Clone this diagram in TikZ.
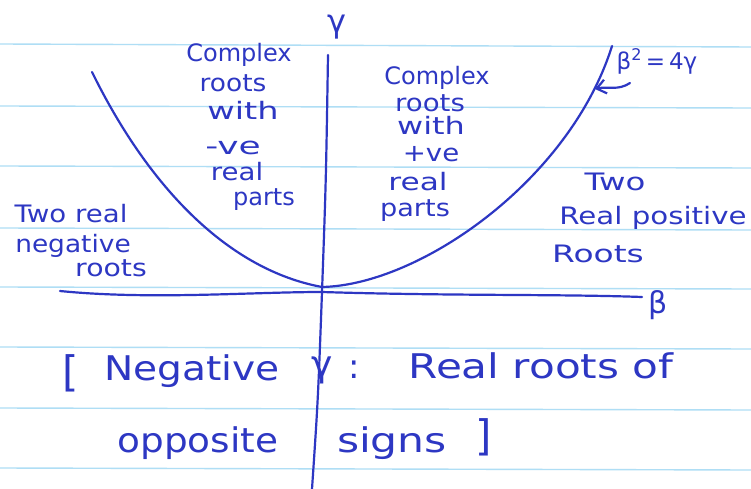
\documentclass[tikz,border=0pt]{standalone}
\usepackage{fontspec}
\setmainfont{DejaVu Sans}
\usepackage{graphicx}
\usetikzlibrary{arrows.meta}
\definecolor{ink}{RGB}{45,55,195}
\definecolor{rulecol}{RGB}{175,222,245}
\newcommand{\sx}[2]{\scalebox{#1}[1]{#2}}
\begin{document}
\begin{tikzpicture}[x=1pt,y=-1pt,
  pen/.style={draw=ink, line width=2.2pt, line cap=round, line join=round},
  hand/.style={text=ink, inner sep=0pt, anchor=base, font=\fontsize{24}{26}\selectfont},
  big/.style={text=ink, inner sep=0pt, anchor=base, font=\fontsize{34}{36}\selectfont},
  ruled/.style={draw=rulecol, line width=1.4pt}]
\useasboundingbox (0,0) rectangle (751,489);
\fill[white] (0,0) rectangle (751,489);
% ruled paper
\foreach \a/\b in {44/47,106/108,166/168,228/230,287/289,347/349,408/410,468/470}
  \draw[ruled] (0,\a) -- (751,\b);

% axes
\coordinate (ytop) at (328,55);
\coordinate (ymid) at (322,292);
\coordinate (ybot) at (312,489);
\draw[pen] (ytop) .. controls (326,180) .. (ymid) .. controls (318,400) .. (ybot);
\coordinate (xl) at (60,291);
\coordinate (xr) at (642,297);
\draw[pen] (xl) .. controls (150,300) and (250,292) .. (ymid) .. controls (450,296) and (560,294) .. (xr);

\node[hand, anchor=center, font=\fontsize{32}{34}\selectfont] (gam) at (337,27) {γ};
\node[hand, anchor=center, font=\fontsize{30}{32}\selectfont] (bet) at (658,305) {β};

% parabola  beta^2 = 4 gamma
\coordinate (vtx) at (322,287);
\coordinate (ptl) at (92,72);
\coordinate (ptr) at (612,46);
\draw[pen] (ptl) .. controls (150,190) and (230,270) .. (vtx)
               .. controls (420,285) and (570,180) .. (ptr);

% label and arrow
\node[hand, anchor=center, font=\fontsize{23}{25}\selectfont] (eq) at (657,61) {β\textsuperscript{2}\,=\,4γ};
\coordinate (atail) at (630,83);
\coordinate (atip) at (595,89);
\draw[pen, -{Straight Barb[length=9pt,width=14pt]}] (atail) .. controls (618,91) and (608,86) .. (atip);

% left upper label
\node[hand] (l1) at (239,62) {Complex};
\node[hand] (l2) at (233,92) {\sx{1.1}{roots}};
\node[hand] (l3) at (243,120) {\sx{1.4}{with}};
\node[hand] (l4) at (233,154) {\sx{1.5}{-ve}};
\node[hand] (l5) at (237,180) {\sx{1.15}{real}};
\node[hand] (l6) at (264,205) {parts};

% right middle label
\node[hand] (r1) at (437,85) {Complex};
\node[hand] (r2) at (430,112) {\sx{1.15}{roots}};
\node[hand] (r3) at (431,135) {\sx{1.33}{with}};
\node[hand] (r4) at (431,161) {\sx{1.15}{+ve}};
\node[hand] (r5) at (418,190) {\sx{1.3}{real}};
\node[hand] (r6) at (415,216) {\sx{1.13}{parts}};

% right lower label
\node[hand] (p1) at (615,190) {\sx{1.35}{Two}};
\node[hand] (p2) at (653,224) {\sx{1.22}{Real positive}};
\node[hand] (p3) at (598,262) {\sx{1.37}{Roots}};

% left lower label
\node[hand] (n1) at (71,222) {\sx{1.15}{Two real}};
\node[hand] (n2) at (73,252) {\sx{1.1}{negative}};
\node[hand] (n3) at (111,276) {\sx{1.18}{roots}};

% bottom note
\node[big, anchor=center, font=\fontsize{42}{44}\selectfont] (lb) at (71,373) {[};
\node[big] (b1) at (192,380) {\sx{1.15}{Negative}};
\node[big, anchor=center, font=\fontsize{36}{38}\selectfont] (b2) at (322,370) {γ};
\node[big, anchor=center] (b3) at (354,370) {:};
\node[big] (b4) at (541,378) {\sx{1.24}{Real roots of}};
\node[big] (b5) at (198,452) {\sx{1.1}{opposite}};
\node[big] (b6) at (392,452) {\sx{1.25}{signs}};
\node[big, anchor=center, font=\fontsize{42}{44}\selectfont] (rb) at (484,437) {]};
\end{tikzpicture}
\end{document}
